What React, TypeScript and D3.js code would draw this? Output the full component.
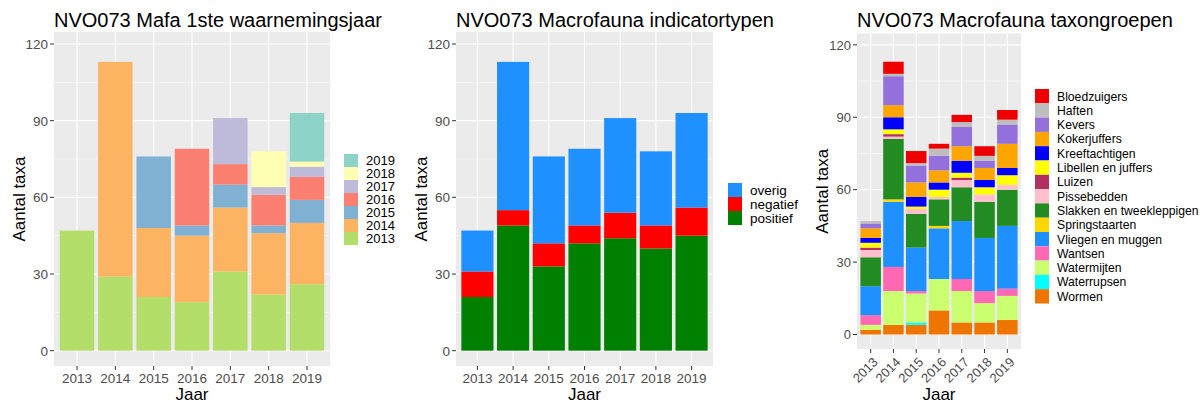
import React, { useRef, useEffect } from "react";
import * as d3 from "d3";

const years = ["2013", "2014", "2015", "2016", "2017", "2018", "2019"];
const yTicks = [0, 30, 60, 90, 120];

// left chart: taxa by year of first observation
const eerste2013 = [47, 29, 21, 19, 31, 22, 26];
const eerste2014 = [0, 84, 27, 26, 25, 24, 24];
const eerste2015 = [0, 0, 28, 4, 9, 3, 9];
const eerste2016 = [0, 0, 0, 30, 8, 12, 9];
const eerste2017 = [0, 0, 0, 0, 18, 3, 4];
const eerste2018 = [0, 0, 0, 0, 0, 14, 2];
const eerste2019 = [0, 0, 0, 0, 0, 0, 19];
const eersteKeys = ["2013", "2014", "2015", "2016", "2017", "2018", "2019"];
const eersteColors = ["#b3de69", "#fdb462", "#80b1d3", "#fb8072", "#bebada", "#ffffb3", "#8dd3c7"];

// middle chart: indicator types
const positief = [21, 49, 33, 42, 44, 40, 45];
const negatief = [10, 6, 9, 7, 10, 9, 11];
const overig = [16, 58, 34, 30, 37, 29, 37];
const indicatorKeys = ["positief", "negatief", "overig"];
const indicatorColors = ["#008000", "#ff0000", "#1e90ff"];

// right chart: taxon groups (bottom of stack first)
const wormen = [2, 4, 4, 10, 5, 5, 6];
const waterrupsen = [0, 0, 1, 0, 0, 0, 0];
const watermijten = [2, 14, 12, 13, 13, 8, 10];
const wantsen = [4, 10, 1, 0, 5, 5, 3];
const vliegen = [12, 27, 18, 21, 24, 22, 26];
const springstaarten = [0, 1, 0, 1, 0, 0, 0];
const slakken = [12, 25, 14, 11, 14, 15, 15];
const pissebedden = [3, 1, 2, 1, 3, 3, 2];
const luizen = [1, 1, 0, 0, 1, 0, 0];
const libellen = [2, 2, 1, 3, 2, 3, 4];
const kreeftachtigen = [2, 5, 4, 3, 5, 3, 3];
const kokerjuffers = [4, 5, 6, 5, 6, 5, 10];
const kevers = [2, 12, 7, 6, 8, 3, 8];
const haften = [1, 1, 1, 3, 2, 2, 2];
const bloedzuigers = [0, 5, 5, 2, 3, 4, 4];
const taxonKeys = [
  "Wormen", "Waterrupsen", "Watermijten", "Wantsen", "Vliegen en muggen",
  "Springstaarten", "Slakken en tweekleppigen", "Pissebedden", "Luizen",
  "Libellen en juffers", "Kreeftachtigen", "Kokerjuffers", "Kevers", "Haften", "Bloedzuigers",
];
const taxonColors = [
  "#ee7600", "#00ffff", "#caff70", "#ff69b4", "#1e90ff", "#ffd700", "#228b22", "#ffc0cb",
  "#b03060", "#ffff00", "#0000ff", "#ffa500", "#9370db", "#bebebe", "#ee0000",
];

const font = "'Liberation Sans', Arial, sans-serif";

function drawPanel(svg, cfg) {
  const { left, right, top, bottom, series, keys, colors, title } = cfg;
  const rows = years.map((yr, i) => {
    const r = { year: yr };
    keys.forEach((k, j) => (r[k] = series[j][i]));
    return r;
  });
  const stacked = d3.stack().keys(keys)(rows);

  // ggplot-like discrete expansion: 0.6 of a step on each side
  const x = d3.scaleBand().domain(years).range([left, right]).paddingInner(0.1).paddingOuter(0.15);
  const y = d3.scaleLinear().domain([-6, 124.7]).range([bottom, top]);

  const g = svg.append("g");
  g.append("rect")
    .attr("x", left).attr("y", top)
    .attr("width", right - left).attr("height", bottom - top)
    .attr("fill", "#ebebeb");

  // grid
  const minor = d3.range(15, 124, 30);
  g.selectAll(".minor").data(minor).join("line")
    .attr("x1", left).attr("x2", right)
    .attr("y1", (d) => y(d)).attr("y2", (d) => y(d))
    .attr("stroke", "#fff").attr("stroke-width", 0.55);
  g.selectAll(".major").data(yTicks).join("line")
    .attr("x1", left).attr("x2", right)
    .attr("y1", (d) => y(d)).attr("y2", (d) => y(d))
    .attr("stroke", "#fff").attr("stroke-width", 1.1);
  g.selectAll(".vmajor").data(years).join("line")
    .attr("x1", (d) => x(d) + x.bandwidth() / 2).attr("x2", (d) => x(d) + x.bandwidth() / 2)
    .attr("y1", top).attr("y2", bottom)
    .attr("stroke", "#fff").attr("stroke-width", 1.1);

  // bars
  stacked.forEach((layer, j) => {
    g.append("g").selectAll("rect").data(layer).join("rect")
      .attr("x", (d) => x(d.data.year))
      .attr("width", x.bandwidth())
      .attr("y", (d) => y(d[1]))
      .attr("height", (d) => y(d[0]) - y(d[1]))
      .attr("fill", colors[j]);
  });

  // y axis
  yTicks.forEach((t) => {
    g.append("line")
      .attr("x1", left - 4).attr("x2", left)
      .attr("y1", y(t)).attr("y2", y(t))
      .attr("stroke", "#333").attr("stroke-width", 1);
    g.append("text")
      .attr("x", left - 6).attr("y", y(t))
      .attr("dy", "0.36em")
      .attr("text-anchor", "end")
      .attr("font-size", cfg.tickSize).attr("fill", "#4d4d4d")
      .text(t);
  });

  // x axis
  years.forEach((yr) => {
    const cx = x(yr) + x.bandwidth() / 2;
    g.append("line")
      .attr("x1", cx).attr("x2", cx)
      .attr("y1", bottom).attr("y2", bottom + 4)
      .attr("stroke", "#333").attr("stroke-width", 1);
    if (cfg.rotate) {
      g.append("text")
        .attr("transform", `translate(${cx + 8},${bottom + 14}) rotate(-45)`)
        .attr("text-anchor", "end")
        .attr("font-size", cfg.tickSize).attr("fill", "#4d4d4d")
        .text(yr);
    } else {
      g.append("text")
        .attr("x", cx).attr("y", bottom + 17)
        .attr("text-anchor", "middle")
        .attr("font-size", cfg.tickSize).attr("fill", "#4d4d4d")
        .text(yr);
    }
  });

  g.append("text")
    .attr("x", (left + right) / 2).attr("y", 400)
    .attr("text-anchor", "middle").attr("font-size", 17)
    .text("Jaar");
  g.append("text")
    .attr("transform", `translate(${left - 29},${(top + bottom) / 2}) rotate(-90)`)
    .attr("text-anchor", "middle").attr("font-size", 17)
    .text("Aantal taxa");
  g.append("text")
    .attr("x", left).attr("y", 26.5)
    .attr("font-size", 20)
    .text(title);

  // legend, top entry = last stacked key
  const n = keys.length;
  const legTop = (top + bottom) / 2 - (n * cfg.keyH) / 2 + cfg.legendShift;
  for (let i = 0; i < n; i++) {
    const k = n - 1 - i;
    g.append("rect")
      .attr("x", cfg.legendX).attr("y", legTop + i * cfg.keyH)
      .attr("width", 14).attr("height", cfg.keyH)
      .attr("fill", colors[k]);
    g.append("text")
      .attr("x", cfg.legendX + 22).attr("y", legTop + i * cfg.keyH + cfg.keyH / 2)
      .attr("dy", "0.36em")
      .attr("font-size", cfg.legendSize)
      .text(keys[k]);
  }
}

const App = () => {
  const ref = useRef(null);

  useEffect(() => {
    const svg = d3.select(ref.current);
    svg.selectAll("*").remove();

    drawPanel(svg, {
      left: 54, right: 330, top: 32, bottom: 366,
      series: [eerste2013, eerste2014, eerste2015, eerste2016, eerste2017, eerste2018, eerste2019],
      keys: eersteKeys, colors: eersteColors,
      title: "NVO073 Mafa 1ste waarnemingsjaar",
      tickSize: 13.5, legendX: 344, keyH: 13, legendSize: 13, legendShift: 0.5,
    });
    drawPanel(svg, {
      left: 456, right: 713, top: 32, bottom: 366,
      series: [positief, negatief, overig],
      keys: indicatorKeys, colors: indicatorColors,
      title: "NVO073 Macrofauna indicatortypen",
      tickSize: 13.5, legendX: 728, keyH: 14, legendSize: 13.5, legendShift: 5,
    });
    drawPanel(svg, {
      left: 857, right: 1021, top: 33.5, bottom: 349,
      series: [wormen, waterrupsen, watermijten, wantsen, vliegen, springstaarten, slakken,
        pissebedden, luizen, libellen, kreeftachtigen, kokerjuffers, kevers, haften, bloedzuigers],
      keys: taxonKeys, colors: taxonColors,
      title: "NVO073 Macrofauna taxongroepen",
      tickSize: 13, legendX: 1035, keyH: 14.3, legendSize: 12.2, rotate: true, legendShift: 5,
    });
  }, []);

  return (
    <svg
      ref={ref}
      width={1204}
      height={403}
      style={{ position: "absolute", left: 0, top: 0, background: "#fff", fontFamily: font }}
    />
  );
};

export default App;
